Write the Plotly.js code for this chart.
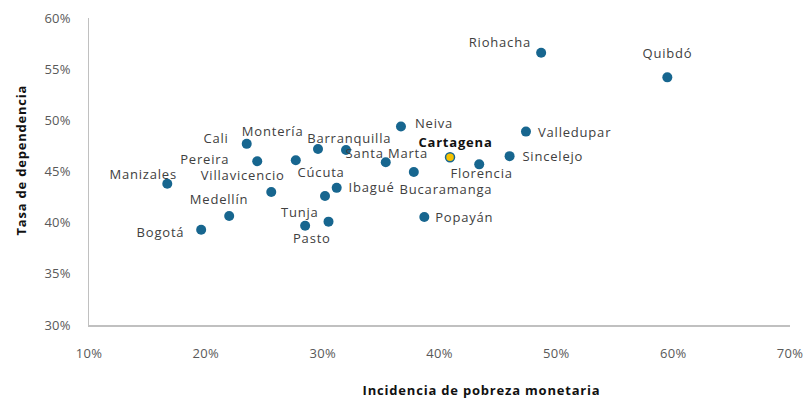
<!DOCTYPE html>
<html>
<head>
<meta charset="utf-8">
<script src="https://cdn.plot.ly/plotly-3.0.1.min.js"></script>
<style>
html,body{margin:0;padding:0;background:#fff;}
#chart{width:810px;height:401px;}
#chart .annotation-text{letter-spacing:0.8px;}
#chart .xtick text, #chart .ytick text{letter-spacing:0.3px;}
</style>
</head>
<body>
<div id="chart"></div>
<script>
// Data (percent values)
const cities = ["Cali","Pereira","Montería","Armenia","Barranquilla","Santa Marta","Neiva","Bucaramanga","Cartagena","Florencia","Sincelejo","Valledupar","Riohacha","Quibdó","Villavicencio","Cúcuta","Ibagué","Tunja","Pasto","Popayán","Manizales","Medellín","Bogotá"];
const pobreza = [23.5,24.4,27.7,29.6,32.0,35.4,36.7,37.8,40.9,43.4,46.0,47.4,48.7,59.5,25.6,30.2,31.2,28.5,30.5,38.7,16.7,22.0,19.6];
const dependencia = [47.7,46.0,46.1,47.2,47.1,45.9,49.4,44.95,46.4,45.7,46.5,48.9,56.6,54.2,43.0,42.6,43.4,39.7,40.1,40.55,43.8,40.65,39.3];
const xTicks = [10,20,30,40,50,60,70];
const yTicks = [30,35,40,45,50,55,60];
const highlight = "Cartagena";

// Label placement styles (pixel offsets from each point)
const labelStyle = {
  "Cali":[-18,6,"right"], "Pereira":[-28,2,"right"], "Montería":[-23,29,"center"],
  "Barranquilla":[3,12,"center"], "Santa Marta":[1,9,"center"], "Neiva":[14,3,"left"],
  "Bucaramanga":[-12,-17,"left"], "Cartagena":[5,15,"center"], "Florencia":[2,-9,"center"],
  "Sincelejo":[14,0,"left"], "Valledupar":[14,0,"left"], "Riohacha":[-41,11,"center"],
  "Quibdó":[0,24,"center"], "Villavicencio":[-28,17,"center"], "Cúcuta":[-4,24,"center"],
  "Ibagué":[12,1,"left"], "Tunja":[-5,14,"center"], "Pasto":[-17,-16,"center"],
  "Popayán":[12,0,"left"], "Manizales":[-24,10,"center"], "Medellín":[-10,17,"center"],
  "Bogotá":[-17,-2,"right"]
};

const blue = "#17668f";
const colors = cities.map(c => c === highlight ? "#f6c200" : blue);
const sizes = cities.map(c => c === highlight ? 9 : 10);

const trace = {
  type: "scatter", mode: "markers",
  x: pobreza.map(v => v/100), y: dependencia.map(v => v/100),
  marker: {color: colors, size: sizes, opacity: 1,
           line: {color: blue, width: cities.map(c => c === highlight ? 1.5 : 0)}},
  hoverinfo: "skip"
};

const labelFont = {family: "Open Sans, sans-serif", size: 13, color: "#404040"};
const annotations = [];
cities.forEach((c, i) => {
  const s = labelStyle[c];
  if (!s) return;
  annotations.push({
    x: pobreza[i]/100, y: dependencia[i]/100, xref: "x", yref: "y",
    text: c === highlight ? "<b>" + c + "</b>" : c,
    showarrow: false, xanchor: s[2], yanchor: "middle",
    xshift: s[0], yshift: s[1],
    font: c === highlight ? {family: "Open Sans, sans-serif", size: 13, color: "#111"} : labelFont
  });
});
annotations.push({
  text: "<b>Incidencia de pobreza monetaria</b>", xref: "paper", yref: "paper",
  x: (481-89)/701, y: 0, yshift: -65, xanchor: "center", yanchor: "middle", showarrow: false,
  font: {family: "Open Sans, sans-serif", size: 13, color: "#111"}
});
annotations.push({
  text: "<b>Tasa de dependencia</b>", xref: "paper", yref: "paper",
  x: 0, xshift: -68, y: (325-160)/307, textangle: -90, xanchor: "center", yanchor: "middle", showarrow: false,
  font: {family: "Open Sans, sans-serif", size: 13, color: "#111"}
});

const tickFont = {family: "Open Sans, sans-serif", size: 13, color: "#595959"};
const layout = {
  width: 810, height: 401,
  margin: {l: 89, r: 20, t: 18, b: 76},
  paper_bgcolor: "#fff", plot_bgcolor: "#fff",
  showlegend: false,
  xaxis: {
    range: [0.10, 0.70], tickvals: xTicks.map(v => v/100), ticktext: xTicks.map(v => v + "%"),
    showgrid: false, zeroline: false, showline: true, linecolor: "#c0c0c0", linewidth: 1.5,
    ticks: "outside", ticklen: 16, tickcolor: "rgba(0,0,0,0)", tickfont: tickFont
  },
  yaxis: {
    range: [0.30, 0.60], tickvals: yTicks.map(v => v/100), ticktext: yTicks.map(v => v + "%"),
    showgrid: false, zeroline: false, showline: true, linecolor: "#c0c0c0", linewidth: 1.5,
    ticks: "outside", ticklen: 14, tickcolor: "rgba(0,0,0,0)", tickfont: tickFont
  },
  annotations: annotations
};

Plotly.newPlot("chart", [trace], layout, {displayModeBar: false, staticPlot: true});
</script>
</body>
</html>
